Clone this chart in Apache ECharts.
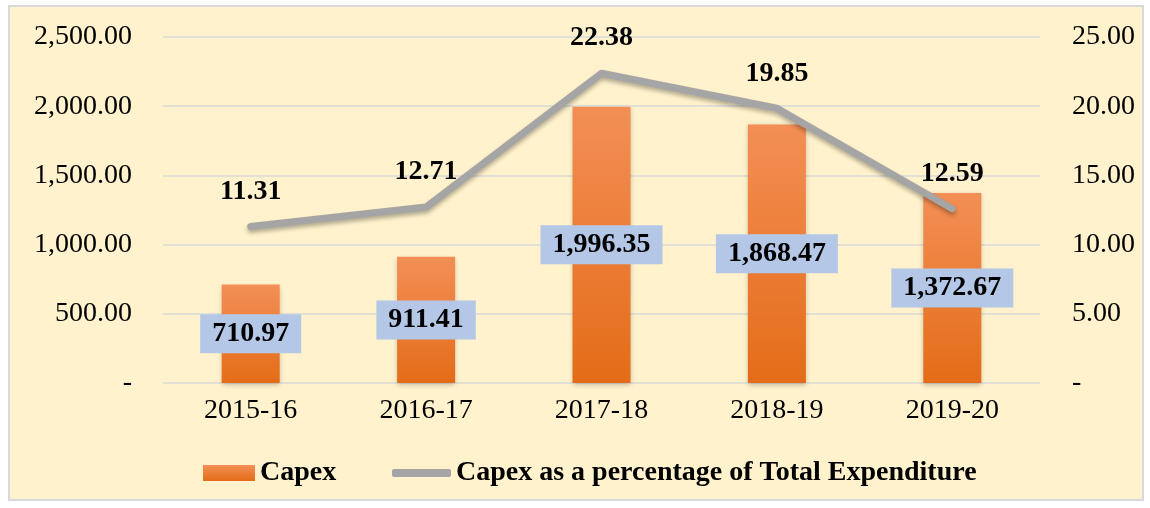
<!DOCTYPE html>
<html>
<head>
<meta charset="utf-8">
<script src="https://cdn.jsdelivr.net/npm/echarts@6/dist/echarts.min.js"></script>
<style>
  html, body { margin: 0; padding: 0; background: #fff; }
  #chart { width: 1150px; height: 508px; }
</style>
</head>
<body>
<div id="chart"></div>
<script>
var years = ['2015-16', '2016-17', '2017-18', '2018-19', '2019-20'];
var capex = [710.97, 911.41, 1996.35, 1868.47, 1372.67];
var capexPct = [11.31, 12.71, 22.38, 19.85, 12.59];
var leftTicks = [0, 500, 1000, 1500, 2000, 2500];
var rightTicks = [0, 5, 10, 15, 20, 25];

var serif = '"Liberation Serif", "Times New Roman", serif';

function fmt(v) {
	if (v === 0) return '-';
	return v.toLocaleString('en-US', { minimumFractionDigits: 2, maximumFractionDigits: 2 });
}

var option = {
	backgroundColor: '#ffffff',
	animation: false,
	graphic: [{
		type: 'rect',
		z: -10,
		shape: { x: 9, y: 6, width: 1134, height: 494 },
		style: { fill: '#FFF2CC', stroke: '#D9D9D9', lineWidth: 2 }
	}],
	grid: { left: 163, right: 110, top: 37, bottom: 125 },
	legend: [{
		left: 198,
		top: 454,
		itemWidth: 52,
		itemHeight: 16,
		data: [{ name: 'Capex', icon: 'rect' }],
		textStyle: { fontFamily: serif, fontSize: 28, fontWeight: 'bold', color: '#000' }
	}, {
		left: 387,
		top: 454,
		itemWidth: 59,
		itemHeight: 8,
		data: [{ name: 'Capex as a percentage of Total Expenditure', icon: 'roundRect', itemStyle: { color: '#A5A5A5' } }],
		textStyle: { fontFamily: serif, fontSize: 28, fontWeight: 'bold', color: '#000' }
	}],
	xAxis: {
		type: 'category',
		data: years,
		axisLine: { show: false },
		axisTick: { show: false },
		axisLabel: { margin: 14, fontFamily: serif, fontSize: 28, color: '#000' }
	},
	yAxis: [{
		type: 'value',
		min: leftTicks[0],
		max: leftTicks[leftTicks.length - 1],
		interval: 500,
		axisLine: { show: false },
		axisTick: { show: false },
		splitLine: { lineStyle: { color: '#D9D9D9', width: 1.5 } },
		axisLabel: { margin: 31, fontFamily: serif, fontSize: 28, color: '#000', formatter: fmt }
	}, {
		type: 'value',
		min: rightTicks[0],
		max: rightTicks[rightTicks.length - 1],
		interval: 5,
		axisLine: { show: false },
		axisTick: { show: false },
		splitLine: { show: false },
		axisLabel: { margin: 32, fontFamily: serif, fontSize: 28, color: '#000', formatter: fmt }
	}],
	series: [{
		name: 'Capex',
		type: 'bar',
		data: capex,
		barWidth: 58,
		itemStyle: {
			color: new echarts.graphic.LinearGradient(0, 0, 0, 1, [
				{ offset: 0, color: '#F38F55' },
				{ offset: 1, color: '#E46C18' }
			]),
			shadowColor: 'rgba(0,0,0,0.25)',
			shadowBlur: 5,
			shadowOffsetY: 2
		},
		label: {
			show: true,
			position: 'inside',
			formatter: function (p) { return fmt(p.value); },
			fontFamily: serif,
			fontSize: 28,
			fontWeight: 'bold',
			color: '#000',
			backgroundColor: '#B4C7E7',
			padding: [6, 12, 5, 12]
		}
	}, {
		name: 'Capex as a percentage of Total Expenditure',
		type: 'line',
		yAxisIndex: 1,
		data: capexPct,
		symbol: 'circle',
		symbolSize: 0,
		z: 5,
		lineStyle: {
			color: '#A5A5A5',
			width: 7,
			cap: 'round',
			join: 'round',
			shadowColor: 'rgba(0,0,0,0.3)',
			shadowBlur: 4,
			shadowOffsetY: 3
		},
		itemStyle: { color: '#A5A5A5' },
		label: {
			show: true,
			position: 'top',
			distance: 21,
			formatter: function (p) { return fmt(p.value); },
			fontFamily: serif,
			fontSize: 28,
			fontWeight: 'bold',
			color: '#000'
		}
	}]
};

var chart = echarts.init(document.getElementById('chart'));
chart.setOption(option);
</script>
</body>
</html>
